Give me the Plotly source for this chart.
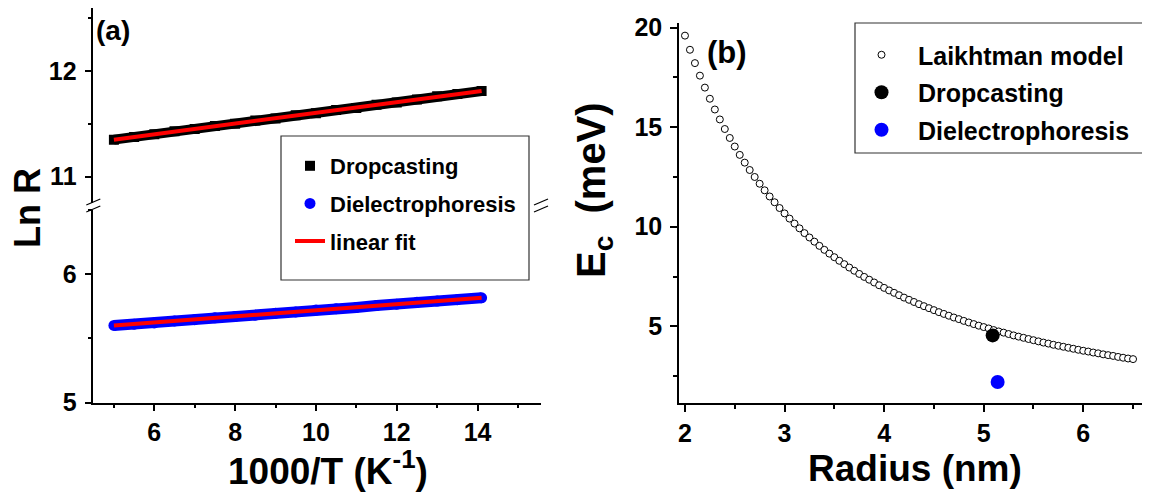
import plotly.graph_objects as go

# ---------------- data ----------------
# panel (a)
drop_x = [5.0, 5.5, 6.0, 6.5, 7.0, 7.5, 8.0, 8.5, 9.0, 9.5, 10.0, 10.5, 11.0, 11.5, 12.0, 12.5, 13.0, 13.5, 14.1]
drop_y = [11.35, 11.375, 11.40, 11.43, 11.45, 11.48, 11.50, 11.53, 11.55, 11.58, 11.60, 11.63, 11.65, 11.68,
          11.70, 11.73, 11.76, 11.78, 11.81]
diel_x = [5.0, 5.5, 6.0, 6.5, 7.0, 7.5, 8.0, 8.5, 9.0, 9.5, 10.0, 10.5, 11.0, 11.5, 12.0, 12.5, 13.0, 13.5, 14.1]
diel_y = [5.60, 5.61, 5.62, 5.635, 5.645, 5.66, 5.67, 5.68, 5.695, 5.705, 5.72, 5.73, 5.74, 5.755,
          5.765, 5.78, 5.79, 5.80, 5.815]
fit_x = [5.0, 14.1]
fit_drop_y = [11.35, 11.81]
fit_diel_y = [5.60, 5.815]

# panel (b)
laik_r = [2.00, 2.05, 2.10, 2.15, 2.20, 2.25, 2.30, 2.35, 2.40, 2.45, 2.50, 2.55, 2.60, 2.65, 2.70, 2.75,
          2.80, 2.85, 2.90, 2.95, 3.00, 3.05, 3.10, 3.15, 3.20, 3.25, 3.30, 3.35, 3.40, 3.45, 3.50, 3.55,
          3.60, 3.65, 3.70, 3.75, 3.80, 3.85, 3.90, 3.95, 4.00, 4.05, 4.10, 4.15, 4.20, 4.25, 4.30, 4.35,
          4.40, 4.45, 4.50, 4.55, 4.60, 4.65, 4.70, 4.75, 4.80, 4.85, 4.90, 4.95, 5.00, 5.05, 5.10, 5.15,
          5.20, 5.25, 5.30, 5.35, 5.40, 5.45, 5.50, 5.55, 5.60, 5.65, 5.70, 5.75, 5.80, 5.85, 5.90, 5.95,
          6.00, 6.05, 6.10, 6.15, 6.20, 6.25, 6.30, 6.35, 6.40, 6.45, 6.50]
laik_e = [19.60, 18.89, 18.22, 17.59, 16.99, 16.43, 15.89, 15.39, 14.91, 14.46, 14.03, 13.61, 13.22, 12.85,
          12.50, 12.16, 11.83, 11.52, 11.23, 10.94, 10.67, 10.41, 10.16, 9.92, 9.68, 9.46, 9.25, 9.04,
          8.84, 8.65, 8.47, 8.29, 8.12, 7.95, 7.79, 7.63, 7.48, 7.34, 7.20, 7.06, 6.93, 6.80, 6.68, 6.56,
          6.44, 6.33, 6.22, 6.11, 6.01, 5.91, 5.81, 5.71, 5.62, 5.53, 5.44, 5.36, 5.27, 5.19, 5.11, 5.03,
          4.96, 4.89, 4.81, 4.74, 4.68, 4.61, 4.54, 4.48, 4.42, 4.36, 4.30, 4.24, 4.18, 4.13, 4.07, 4.02,
          3.97, 3.92, 3.87, 3.82, 3.77, 3.73, 3.68, 3.64, 3.59, 3.55, 3.51, 3.46, 3.42, 3.38, 3.35]
drop_pt_r = [5.09]
drop_pt_e = [4.54]
diel_pt_r = [5.14]
diel_pt_e = [2.2]

# ---------------- layout helpers ----------------
W, H = 1150, 495
OFF = 8  # page offset of the plot div inside the browser window
FONT = "Liberation Sans, Arial, sans-serif"


def fx(p):
    return min(1.0, max(0.0, (p - OFF) / W))


def fy(p):
    return min(1.0, max(0.0, 1 - (p - OFF) / H))


tickfont = dict(family=FONT, size=25, color="black", weight="bold")
LW = 1.5

fig = go.Figure()

# ---- panel (a) traces ----
fig.add_trace(go.Scatter(x=drop_x, y=drop_y, xaxis="x", yaxis="y", mode="lines",
                         line=dict(color="black", width=10), showlegend=False, hoverinfo="skip"))
fig.add_trace(go.Scatter(x=drop_x, y=drop_y, xaxis="x", yaxis="y", mode="markers",
                         marker=dict(symbol="square", size=10, color="black"),
                         name="Dropcasting", legend="legend", legendgroup="a1"))
fig.add_trace(go.Scatter(x=diel_x, y=diel_y, xaxis="x", yaxis="y2", mode="lines",
                         line=dict(color="#0000FF", width=11), showlegend=False, hoverinfo="skip"))
fig.add_trace(go.Scatter(x=diel_x, y=diel_y, xaxis="x", yaxis="y2", mode="markers",
                         marker=dict(symbol="circle", size=11, color="#0000FF"),
                         name="Dielectrophoresis", legend="legend", legendgroup="a2"))
fig.add_trace(go.Scatter(x=fit_x, y=fit_drop_y, xaxis="x", yaxis="y", mode="lines",
                         line=dict(color="#FF0000", width=4), name="linear fit",
                         legend="legend", legendgroup="a3"))
fig.add_trace(go.Scatter(x=fit_x, y=fit_diel_y, xaxis="x", yaxis="y2", mode="lines",
                         line=dict(color="#FF0000", width=4), showlegend=False))

# ---- panel (b) traces ----
fig.add_trace(go.Scatter(x=laik_r, y=laik_e, xaxis="x2", yaxis="y5", mode="markers",
                         marker=dict(symbol="circle", size=7, color="white",
                                     line=dict(color="black", width=1)),
                         name="Laikhtman model", legend="legend2", legendgroup="b1"))
fig.add_trace(go.Scatter(x=drop_pt_r, y=drop_pt_e, xaxis="x2", yaxis="y5", mode="markers",
                         marker=dict(symbol="circle", size=14, color="black"),
                         name="Dropcasting", legend="legend2", legendgroup="b2"))
fig.add_trace(go.Scatter(x=diel_pt_r, y=diel_pt_e, xaxis="x2", yaxis="y5", mode="markers",
                         marker=dict(symbol="circle", size=14, color="#0000FF"),
                         name="Dielectrophoresis", legend="legend2", legendgroup="b3"))

# ---- axes geometry ----
A_X = [fx(93.3), fx(541)]
A_UP = [fy(203.2), fy(8.0)]
A_LO = [fy(402.7), fy(209.6)]
A_XR = [4.49, 15.57]
A_UR = [10.75, 12.593]
A_LR = [5.0, 6.5]

B_X = [fx(679), fx(1146)]
B_Y = [fy(403.3), fy(23.3)]
B_XR = [1.94, 6.63]
B_YR = [1.13, 20.22]


def base_axis(**kw):
    d = dict(showgrid=False, zeroline=False, showline=True, linecolor="black", linewidth=LW,
             tickcolor="black", tickwidth=LW, ticklen=7, tickfont=tickfont, mirror=False,
             automargin=False, tickprefix="<b>", ticksuffix="</b>")
    d.update(kw)
    return d


def minor(dt, side="outside"):
    return dict(ticks=side, ticklen=4, dtick=dt, tickcolor="black", tickwidth=LW, showgrid=False)


fig.update_layout(
    width=W, height=H, margin=dict(l=0, r=0, t=0, b=0, pad=0, autoexpand=False),
    paper_bgcolor="white", plot_bgcolor="white",
    font=dict(family=FONT, color="black"),
    # panel (a)
    xaxis=base_axis(domain=A_X, anchor="y2", range=A_XR, tick0=0, dtick=2, ticks="outside",
                    minor=minor(1)),
    yaxis=base_axis(domain=A_UP, anchor="x", range=A_UR, tick0=0, dtick=1, ticks="outside",
                    minor=minor(0.5), ticklabelstandoff=3),
    yaxis2=base_axis(domain=A_LO, anchor="x", range=A_LR, tick0=0, dtick=1, ticks="outside",
                     minor=minor(0.5), ticklabelstandoff=3),
    xaxis3=base_axis(overlaying="x", anchor="y", side="top", range=A_XR, tick0=0, dtick=2,
                     ticks="inside", minor=minor(1, "inside"), showticklabels=False),
    yaxis3=base_axis(overlaying="y", anchor="x", side="right", range=A_UR, tick0=0, dtick=1,
                     ticks="inside", minor=minor(0.5, "inside"), showticklabels=False),
    yaxis4=base_axis(overlaying="y2", anchor="x", side="right", range=A_LR, tick0=0, dtick=1,
                     ticks="inside", minor=minor(0.5, "inside"), showticklabels=False),
    # panel (b)
    xaxis2=base_axis(domain=B_X, anchor="y5", range=B_XR, tick0=0, dtick=1, ticks="outside",
                     minor=minor(0.5)),
    yaxis5=base_axis(domain=B_Y, anchor="x2", range=B_YR, tick0=0, dtick=5, ticks="outside",
                     minor=minor(2.5), ticklabelstandoff=3),
    xaxis4=base_axis(overlaying="x2", anchor="y5", side="top", range=B_XR, tick0=0, dtick=1,
                     ticks="inside", minor=minor(0.5, "inside"), showticklabels=False),
    yaxis6=base_axis(overlaying="y5", anchor="x2", side="right", range=B_YR, tick0=0, dtick=5,
                     ticks="inside", minor=minor(2.5, "inside"), showticklabels=False),
    legend=dict(x=fx(290), y=fy(145), xanchor="left", yanchor="top", bgcolor="rgba(0,0,0,0)",
                borderwidth=0, font=dict(family=FONT, size=22, color="black", weight="bold"),
                tracegroupgap=6, traceorder="grouped"),
    legend2=dict(x=fx(845), y=fy(32), xanchor="left", yanchor="top", bgcolor="rgba(0,0,0,0)",
                 borderwidth=0, font=dict(family=FONT, size=25, color="black", weight="bold"),
                 tracegroupgap=2, traceorder="grouped", itemwidth=63),
)

# ---- legend frames and axis-break marks ----
shapes = []
for x0, x1, y0, y1 in [(281, 529, 136, 280), (855, 1146, 23, 153)]:
    shapes.append(dict(type="rect", xref="paper", yref="paper", x0=fx(x0), x1=fx(x1),
                       y0=fy(y1), y1=fy(y0), line=dict(color="#333333", width=1.2)))
for cx in (93.3, 541):
    for dy in (0, 7):
        shapes.append(dict(type="line", xref="paper", yref="paper",
                           x0=fx(cx - 7), y0=fy(205 + dy), x1=fx(cx + 7), y1=fy(199 + dy),
                           line=dict(color="black", width=1.2)))
fig.update_layout(shapes=shapes)

# ---- titles and panel labels ----
ann = [
    dict(text="Ln R", x=fx(28), y=fy(208), textangle=-90, font=dict(size=36)),
    dict(text="1000/T (K<sup>-1</sup>)", x=fx(328), y=fy(468), font=dict(size=37)),
    dict(text="E<sub>c</sub>  (meV)", x=fx(594), y=fy(190), textangle=-90, font=dict(size=40)),
    dict(text="Radius (nm)", x=fx(915), y=fy(468), font=dict(size=37)),
    dict(text="(a)", x=fx(113), y=fy(31), font=dict(size=28)),
    dict(text="(b)", x=fx(727), y=fy(52), font=dict(size=31)),
]
for a in ann:
    a.update(xref="paper", yref="paper", showarrow=False, xanchor="center", yanchor="middle")
    a["font"].update(family=FONT, color="black", weight="bold")
fig.update_layout(annotations=ann)

fig.write_html("out.html")
